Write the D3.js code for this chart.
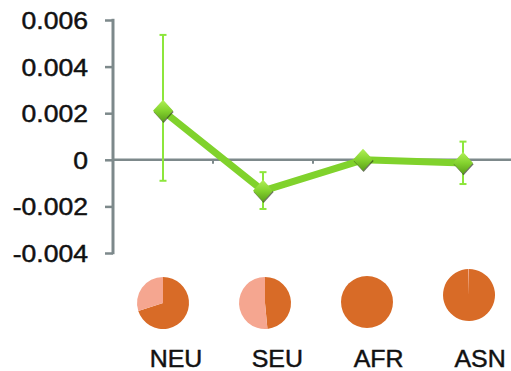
<!DOCTYPE html>
<html>
<head>
<meta charset="utf-8">
<script src="https://cdn.jsdelivr.net/npm/d3@7/dist/d3.min.js"></script>
<style>
  html, body { margin: 0; padding: 0; background: #fff; }
  svg { display: block; }
  text { font-family: "Liberation Sans", Arial, Helvetica, sans-serif; fill: #111; stroke: #111; stroke-width: 0.45px; }
</style>
</head>
<body>
<svg id="chart" width="511" height="371"></svg>
<script>
// Populations and their mean effect with error bar extents
const populations = ["NEU", "SEU", "AFR", "ASN"];
const meanValues  = [0.0021, -0.00133, 0.0, -0.00014];
const errorHigh   = [0.00536, -0.00053, 0.00002, 0.00078];
const errorLow    = [-0.0009, -0.00211, -0.00002, -0.00104];

// Ancestry proportions shown as pies under each population (dark, light)
const darkShare  = [0.70, 0.485, 1.0, 0.997];
const lightShare = [0.30, 0.515, 0.0, 0.003];

// Y axis tick values
const yTicks = [0.006, 0.004, 0.002, 0, -0.002, -0.004];

const svg = d3.select("#chart");

const axisColor = "#7d898b";
const lineColor = "#80d22c";
const errColor  = "#8de63c";
const pieDark   = "#d86b27";
const pieLight  = "#f5a690";

const y = d3.scaleLinear().domain([-0.004, 0.006]).range([253, 20]);
const x = d3.scaleBand().domain(populations).range([113, 513]);
const cx = d => x(d) + x.bandwidth() / 2;

// Gradient for diamond markers
const defs = svg.append("defs");
const grad = defs.append("linearGradient").attr("id", "diamondFill")
  .attr("x1", 0).attr("y1", 0).attr("x2", 0).attr("y2", 1);
grad.append("stop").attr("offset", "0%").attr("stop-color", "#b0f057");
grad.append("stop").attr("offset", "50%").attr("stop-color", "#84d22e");
grad.append("stop").attr("offset", "100%").attr("stop-color", "#5a9f1a");

// Y axis: vertical line with ticks pointing left
const yAxis = d3.axisLeft(y).tickValues(yTicks).tickSize(8).tickFormat("");
const yG = svg.append("g").attr("transform", "translate(113,0)").call(yAxis);
yG.select(".domain").remove();
yG.selectAll(".tick line").attr("stroke", axisColor).attr("stroke-width", 2.5);
yG.append("line").attr("x1", 0).attr("x2", 0)
  .attr("y1", y(0.006) - 1.2).attr("y2", y(-0.004) + 1.2)
  .attr("stroke", axisColor).attr("stroke-width", 3);

// Y tick labels, slightly widened
yG.selectAll(".tick").append("g")
  .attr("transform", "translate(-25,8.5) scale(1.14,1)")
  .append("text")
  .attr("text-anchor", "end")
  .style("font-size", "23.3px")
  .text(d => d === 0 ? "0" : d3.format(".3f")(d).replace("−", "-"));

// Zero line with small category ticks
svg.append("line")
  .attr("x1", 113).attr("x2", 511)
  .attr("y1", y(0)).attr("y2", y(0))
  .attr("stroke", axisColor).attr("stroke-width", 2.5);
svg.selectAll(".xtick").data(populations.slice(1))
  .enter().append("line")
  .attr("class", "xtick")
  .attr("x1", d => x(d)).attr("x2", d => x(d))
  .attr("y1", y(0)).attr("y2", y(0) + 4)
  .attr("stroke", axisColor).attr("stroke-width", 2);

// Error bars
const eb = svg.append("g").selectAll("g").data(populations).enter().append("g");
eb.append("line")
  .attr("x1", d => cx(d)).attr("x2", d => cx(d))
  .attr("y1", (d, i) => y(errorHigh[i])).attr("y2", (d, i) => y(errorLow[i]))
  .attr("stroke", errColor).attr("stroke-width", 2);
[errorHigh, errorLow].forEach(arr => {
  eb.append("line")
    .attr("x1", d => cx(d) - 3.5).attr("x2", d => cx(d) + 3.5)
    .attr("y1", (d, i) => y(arr[i])).attr("y2", (d, i) => y(arr[i]))
    .attr("stroke", errColor).attr("stroke-width", 2);
});

// Connecting line
const line = d3.line().x((d, i) => cx(populations[i])).y(d => y(d));
svg.append("path").datum(meanValues)
  .attr("d", line)
  .attr("fill", "none")
  .attr("stroke", lineColor)
  .attr("stroke-width", 7)
  .attr("stroke-linejoin", "round");

// Diamond markers with a dark lower edge
const diamond = "M0,-11 L10,0 L0,11 L-10,0 Z";
const mk = svg.append("g").selectAll("g").data(meanValues).enter().append("g")
  .attr("transform", (d, i) => `translate(${cx(populations[i])},${y(d)})`);
mk.append("path").attr("d", diamond).attr("transform", "translate(0.6,1.2)")
  .attr("fill", "#2e3b1c").attr("opacity", 0.7);
mk.append("path").attr("d", diamond).attr("fill", "url(#diamondFill)");

// Pies beneath each population
const pieX = d3.scalePoint().domain(populations).range([163, 469]);
const pieY = { NEU: 303, SEU: 303, AFR: 302, ASN: 295 };
const pie = d3.pie().sort(null).value(d => d);
const arc = d3.arc().innerRadius(0).outerRadius(26);
populations.forEach((p, i) => {
  const g = svg.append("g").attr("transform", `translate(${pieX(p)},${pieY[p]})`);
  g.selectAll("path").data(pie([darkShare[i], lightShare[i]]))
    .enter().append("path")
    .attr("d", arc)
    .attr("fill", (d, j) => j === 0 ? pieDark : pieLight);
});

// Population labels
const labelX = d3.scalePoint().domain(populations).range([176, 480]);
svg.selectAll(".poplabel").data(populations).enter().append("g")
  .attr("class", "poplabel")
  .attr("transform", d => `translate(${labelX(d)},366.5) scale(1.07,1)`)
  .append("text")
  .attr("text-anchor", "middle")
  .style("font-size", "23.3px")
  .text(d => d);
</script>
</body>
</html>
